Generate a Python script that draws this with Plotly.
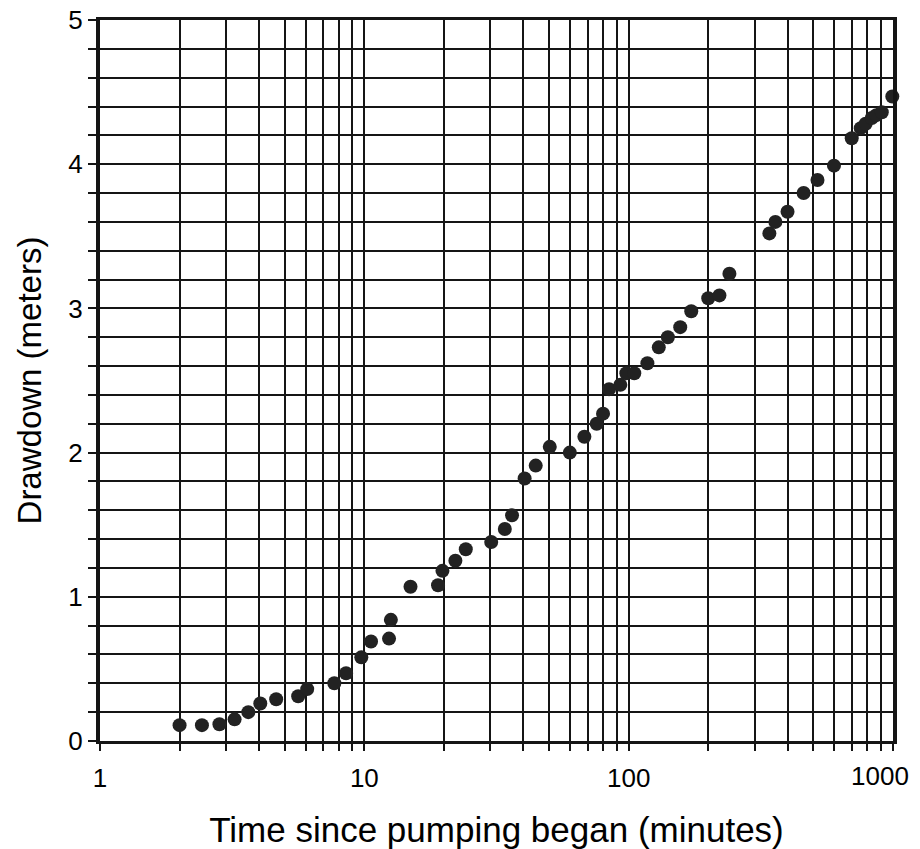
import plotly.graph_objects as go

time_min = [2.0, 2.43, 2.83, 3.23, 3.64, 4.04, 4.64, 5.62, 6.08, 7.7, 8.53, 9.74,
            10.6, 12.4, 12.6, 14.95, 19.0, 19.75, 22.1, 24.2, 30.2, 34.0, 36.2,
            40.4, 44.5, 50.3, 59.9, 68.0, 75.7, 80.0, 84.3, 93.0, 98.0, 105.0,
            117.7, 130.0, 140.7, 156.7, 172.5, 200.0, 220.5, 240.5, 340.6, 359.0,
            399.0, 459.0, 518.0, 598.0, 698.0, 755.0, 788.0, 831.0, 865.0, 907.0, 994.0]
drawdown_m = [0.11, 0.11, 0.116, 0.15, 0.2, 0.26, 0.29, 0.31, 0.36, 0.40, 0.47, 0.58,
              0.69, 0.71, 0.84, 1.07, 1.08, 1.18, 1.25, 1.33, 1.38, 1.47, 1.565,
              1.82, 1.91, 2.04, 2.00, 2.11, 2.20, 2.27, 2.44, 2.47, 2.55, 2.55,
              2.62, 2.73, 2.80, 2.87, 2.98, 3.07, 3.09, 3.24, 3.52, 3.60,
              3.67, 3.80, 3.89, 3.99, 4.18, 4.25, 4.28, 4.32, 4.34, 4.36, 4.47]

x_tickvals = [m * 10 ** e for e in range(3) for m in range(1, 10)] + [1000]
x_labels = {1: "1", 10: "10", 100: "100"}
x_ticktext = [x_labels.get(v, "") for v in x_tickvals]
x_end_val = [1000]
x_end_text = ["1000"]
y_tickvals = [round(i * 0.2, 1) for i in range(26)]
y_ticktext = [str(int(v)) if abs(v - round(v)) < 1e-9 else "" for v in y_tickvals]

fig = go.Figure()
fig.add_trace(go.Scatter(
    x=time_min, y=drawdown_m, mode="markers",
    marker=dict(size=14, color="#222222"),
    cliponaxis=False, showlegend=False,
))
# empty helper trace so the label-only axis for "1000" is rendered
fig.add_trace(go.Scatter(x=[], y=[], xaxis="x2", yaxis="y", mode="markers",
                         showlegend=False, hoverinfo="skip"))

font_family = "Liberation Sans, Arial, sans-serif"
line_col = "#151515"
fig.update_layout(
    width=920, height=849,
    margin=dict(l=100, r=27, t=20, b=108),
    plot_bgcolor="white", paper_bgcolor="white",
    showlegend=False,
    font=dict(family=font_family, color="black", size=26),
    xaxis=dict(
        type="log", range=[0, 3], automargin=False,
        tickmode="array", tickvals=x_tickvals, ticktext=x_ticktext,
        showgrid=True, gridcolor=line_col, gridwidth=2,
        showline=True, linecolor=line_col, linewidth=3, mirror=True,
        ticks="outside", ticklen=7, tickwidth=2, tickcolor=line_col,
        tickfont=dict(size=26), ticklabeloverflow="allow", ticklabelstandoff=5,
        title=dict(text="Time since pumping began (minutes)", font=dict(size=35), standoff=26),
        zeroline=False,
    ),
    xaxis2=dict(
        type="log", range=[0, 3], automargin=False,
        overlaying="x", side="bottom", anchor="y",
        tickmode="array", tickvals=x_end_val, ticktext=x_end_text,
        showgrid=False, showline=False, zeroline=False,
        ticks="outside", ticklen=7, tickwidth=0, tickcolor="rgba(0,0,0,0)",
        tickfont=dict(size=26), ticklabeloverflow="allow", ticklabelstandoff=5,
        ticklabelshift=-13,
    ),
    yaxis=dict(
        range=[0, 5], automargin=False,
        tickmode="array", tickvals=y_tickvals, ticktext=y_ticktext,
        showgrid=True, gridcolor=line_col, gridwidth=2,
        showline=True, linecolor=line_col, linewidth=4, mirror=True,
        ticks="outside", ticklen=8, tickwidth=2, tickcolor=line_col,
        tickfont=dict(size=26), ticklabeloverflow="allow",
        title=dict(text="Drawdown (meters)", font=dict(size=33), standoff=18),
        zeroline=False,
    ),
)

fig.write_html("out.html", config={"displayModeBar": False},
               post_script="document.body.style.margin='0';")
